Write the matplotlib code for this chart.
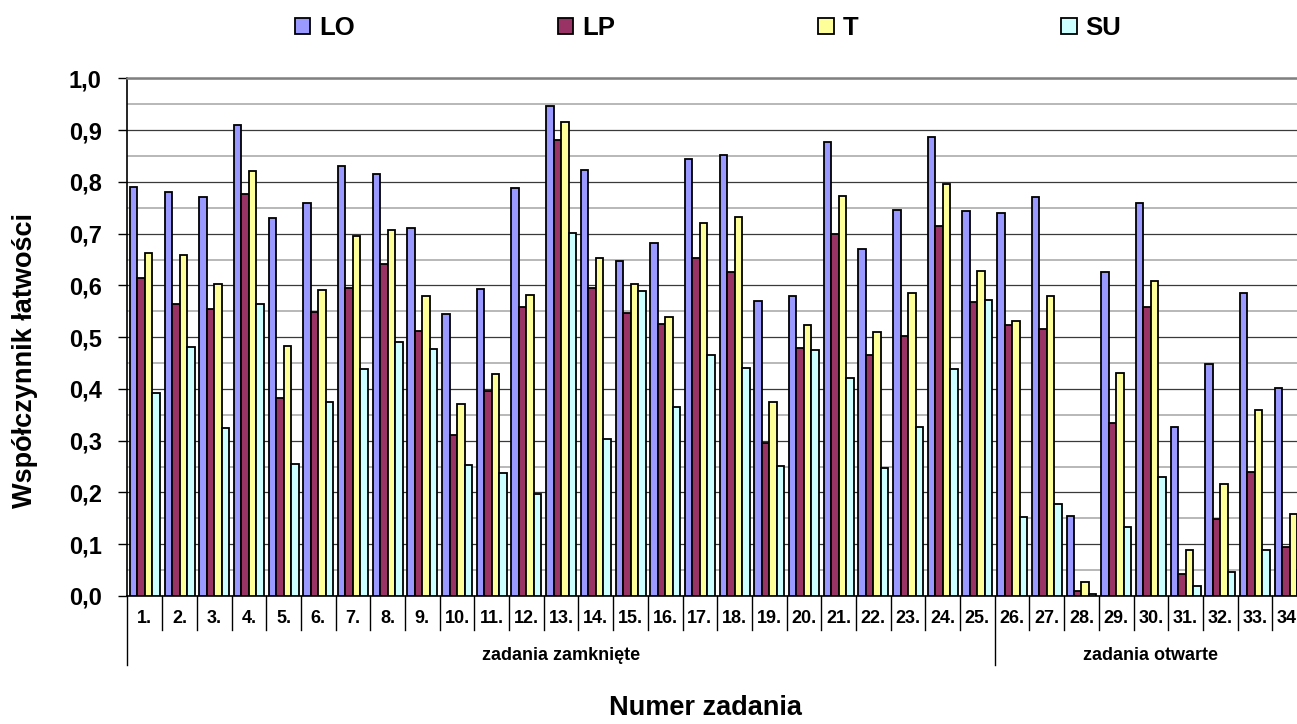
# Wykres wspolczynnika latwosci dla zadan (LO, LP, T, SU)
import numpy as np
import matplotlib.pyplot as plt
from matplotlib.ticker import MultipleLocator
import matplotlib.transforms as mtransforms

# Dane
zadania = [f"{i}." for i in range(1, 35)]
LO = [0.791, 0.781, 0.771, 0.911, 0.731, 0.760, 0.830, 0.815, 0.712, 0.545,
      0.593, 0.789, 0.946, 0.823, 0.648, 0.682, 0.844, 0.852, 0.570, 0.580,
      0.877, 0.671, 0.746, 0.886, 0.744, 0.740, 0.771, 0.155, 0.627, 0.759,
      0.327, 0.449, 0.586, 0.402]
LP = [0.614, 0.564, 0.554, 0.776, 0.383, 0.549, 0.595, 0.642, 0.513, 0.312,
      0.396, 0.558, 0.881, 0.595, 0.546, 0.526, 0.654, 0.626, 0.296, 0.480,
      0.699, 0.466, 0.503, 0.714, 0.569, 0.524, 0.515, 0.010, 0.335, 0.558,
      0.042, 0.149, 0.239, 0.095]
T = [0.662, 0.658, 0.603, 0.821, 0.484, 0.591, 0.696, 0.708, 0.580, 0.371,
     0.429, 0.582, 0.916, 0.654, 0.602, 0.539, 0.721, 0.732, 0.374, 0.524,
     0.773, 0.511, 0.585, 0.796, 0.628, 0.531, 0.580, 0.028, 0.430, 0.608,
     0.088, 0.216, 0.359, 0.158]
SU = [0.392, 0.481, 0.325, 0.564, 0.256, 0.374, 0.438, 0.490, 0.477, 0.253,
      0.237, 0.198, 0.702, 0.304, 0.589, 0.365, 0.466, 0.440, 0.252, 0.476,
      0.421, 0.247, 0.327, 0.438, 0.572, 0.153, 0.178, 0.003, 0.134, 0.229,
      0.020, 0.046, 0.089, 0.050]
serie = ["LO", "LP", "T", "SU"]
kolory = ["#9999FF", "#993366", "#FFFF99", "#CCFFFF"]
grupy = ["zadania zamknięte", "zadania otwarte"]
n_zamkniete = 25

plt.rcParams['font.family'] = ['Liberation Sans', 'DejaVu Sans']
plt.rcParams['font.weight'] = 'bold'

fig = plt.figure(figsize=(12.97, 7.24), dpi=100)
# obszar wykresu wychodzi poza prawa krawedz (jak w oryginale)
ax = fig.add_axes([0.0983, 0.1768, 0.9094, 0.7148])

x = np.arange(len(zadania))
w = 0.216
for k, (nazwa, dane) in enumerate(zip(serie, [LO, LP, T, SU])):
    ax.bar(x + (k - 1.5) * w, dane, width=w, color=kolory[k],
           edgecolor='black', linewidth=1.3, label=nazwa, zorder=3)

ax.set_xlim(-0.5, len(zadania) - 0.5)
ax.set_ylim(0, 1.0)

# siatka glowna i pomocnicza
ax.yaxis.set_major_locator(MultipleLocator(0.1))
ax.yaxis.set_minor_locator(MultipleLocator(0.05))
ax.grid(axis='y', which='major', color='#3a3a3a', linewidth=0.9, zorder=1)
ax.grid(axis='y', which='minor', color='#b8b8b8', linewidth=1.4, zorder=0)
ax.set_axisbelow(True)

ax.set_yticks(np.arange(0, 1.01, 0.1))
ax.set_yticklabels([f"{v:.1f}".replace('.', ',') for v in np.arange(0, 1.01, 0.1)],
                   fontsize=17, fontweight='bold')
ax.tick_params(axis='y', which='major', direction='out', length=6.5,
               width=1, pad=12)
ax.tick_params(axis='y', which='minor', length=0)

ax.set_xticks(x)
ax.set_xticklabels(zadania, fontsize=13, fontweight='bold')
ax.tick_params(axis='x', length=0, pad=10)

ax.spines['top'].set_color('#808080')
ax.spines['top'].set_linewidth(1.8)
ax.spines['right'].set_visible(False)
ax.spines['left'].set_linewidth(1.2)
ax.spines['bottom'].set_linewidth(1.2)

# linie podzialu kategorii pod osia
tr = mtransforms.blended_transform_factory(ax.transData, ax.transAxes)
for b in np.arange(-0.5, len(zadania) - 0.5):
    if b == -0.5 or b == n_zamkniete - 0.5:
        dol = -69 / 517.5
    else:
        dol = -34 / 517.5
    ax.plot([b, b], [0, dol], color='black', linewidth=1,
            transform=tr, clip_on=False)

# podpisy grup zadan
ax.text((n_zamkniete - 1) / 2, -60 / 517.5, grupy[0], transform=tr,
        ha='center', va='center', fontsize=13, fontweight='bold')
ax.text((n_zamkniete + len(zadania) - 1) / 2, -60 / 517.5, grupy[1],
        transform=tr, ha='center', va='center', fontsize=13,
        fontweight='bold')

fig.text(25 / 1297, 1 - 361 / 724, 'Współczynnik łatwości', rotation=90,
         ha='center', va='center', fontsize=19.5, fontweight='bold')
fig.text(705 / 1297, 1 - 708 / 724, 'Numer zadania', ha='center',
         va='center', fontsize=19.5, fontweight='bold')

leg = fig.legend(loc='center', bbox_to_anchor=(708 / 1297, 1 - 28 / 724),
                 ncol=4, frameon=False, prop={'size': 18.5, 'weight': 'bold'},
                 handlelength=0.6, handleheight=0.6, handletextpad=0.35,
                 columnspacing=7.9)

plt.savefig('out.png', dpi=100)
